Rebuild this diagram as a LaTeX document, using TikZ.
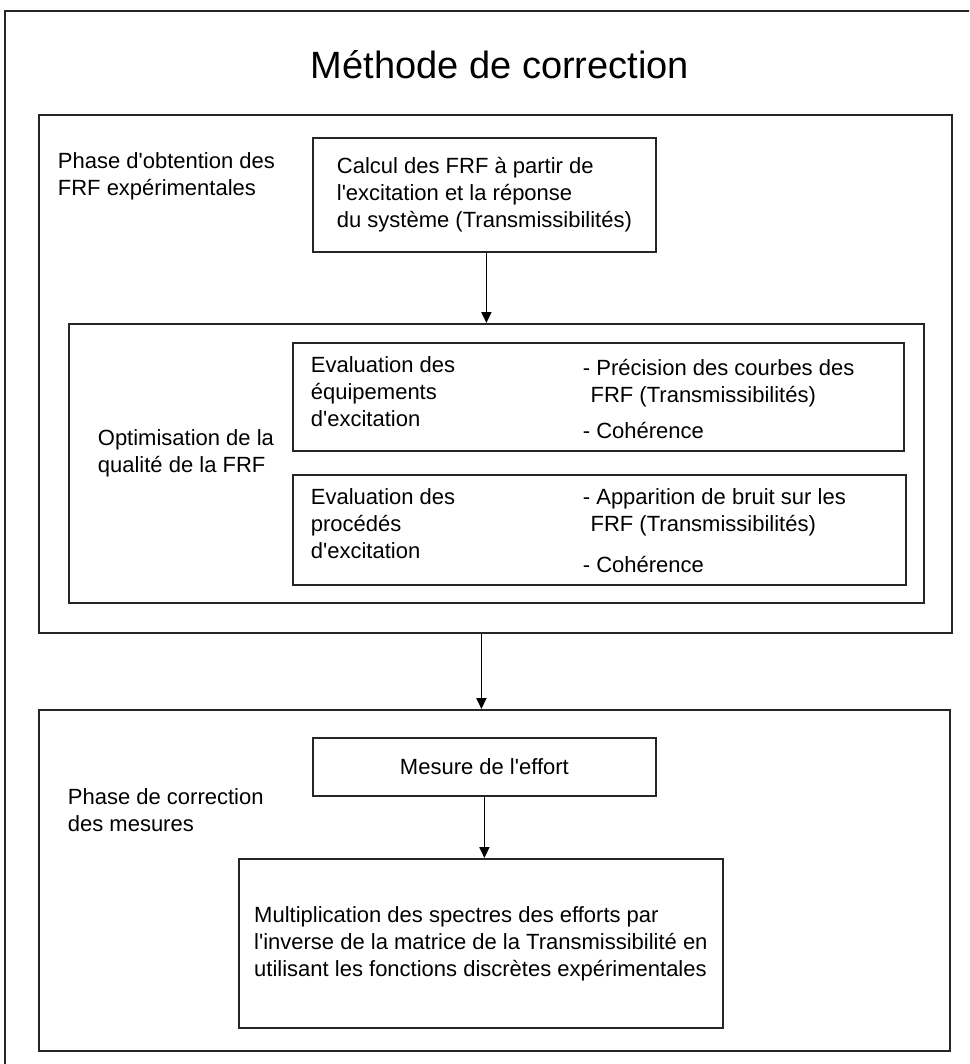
\documentclass[tikz,border=0pt]{standalone}
\usepackage{fontspec}
\setmainfont[Ligatures=TeXOff]{Liberation Sans}
\usetikzlibrary{arrows.meta}

\begin{document}
\begin{tikzpicture}[x=1pt,y=-1pt,->,>={Triangle[length=11pt,width=10pt]},
                    line width=1.8pt,font=\fontsize{22}{27}\selectfont]
  \tikzstyle{every node}=[inner sep=0pt]
  \tikzstyle{frame}=[draw=black!85,rectangle,anchor=north west]
  \tikzstyle{phrase}=[align=left,anchor=west]

  \clip (0,0) rectangle (969,1064);
  \draw[-,black!85] (990,11) -| (5,1090);
  \node (title) at (500,65) {\fontsize{38}{45}\selectfont Méthode de correction};

  % phase 1
  \node[frame,minimum width=913pt,minimum height=518pt] (phaseA) at (38,114) {};
  \node[phrase] (labA) at (57,176) {Phase d'obtention des\\FRF expérimentales};
  \node[frame,minimum width=343pt,minimum height=114pt,align=left] (calc) at (312,137)
       {Calcul des FRF à partir de\\l'excitation et la réponse\\du système (Transmissibilités)};
  \node[frame,minimum width=855pt,minimum height=279pt] (optim) at (68,323) {};
  \node[phrase] (labOpt) at (97,453) {Optimisation de la\\qualité de la FRF};
  \node[frame,minimum width=611pt,minimum height=108pt] (evalA) at (292,342) {};
  \node[phrase] (evalAl) at (310,392) {Evaluation des\\équipements\\d'excitation};
  \node[phrase] (evalAr) at (582,399)
       {- Précision des courbes des\\\hspace{0.35em}FRF (Transmissibilités)\\[9pt]- Cohérence};
  \node[frame,minimum width=613pt,minimum height=110pt] (evalB) at (292,474) {};
  \node[phrase] (evalBl) at (310,524) {Evaluation des\\procédés\\d'excitation};
  \node[phrase] (evalBr) at (582,531)
       {- Apparition de bruit sur les\\\hspace{0.35em}FRF (Transmissibilités)\\[14pt]- Cohérence};

  % phase 2
  \node[frame,minimum width=911pt,minimum height=341pt] (phaseB) at (38,709) {};
  \node[phrase] (labB) at (67,810) {Phase de correction\\des mesures};
  \node[frame,minimum width=343pt,minimum height=58pt] (mesure) at (312,737) {Mesure de l'effort};
  \node[frame,minimum width=484pt,minimum height=169pt,align=left] (multi) at (238,858)
       {Multiplication des spectres des efforts par\\l'inverse de la matrice de la Transmissibilité en\\utilisant les fonctions discrètes expérimentales};

  \draw ([xshift=2pt]calc.south) -- ([xshift=2pt]calc.south |- optim.north);
  \draw ([xshift=-14pt]phaseA.south) -- ([xshift=-14pt]phaseA.south |- phaseB.north);
  \draw (mesure.south) -- (mesure.south |- multi.north);
\end{tikzpicture}
\end{document}
